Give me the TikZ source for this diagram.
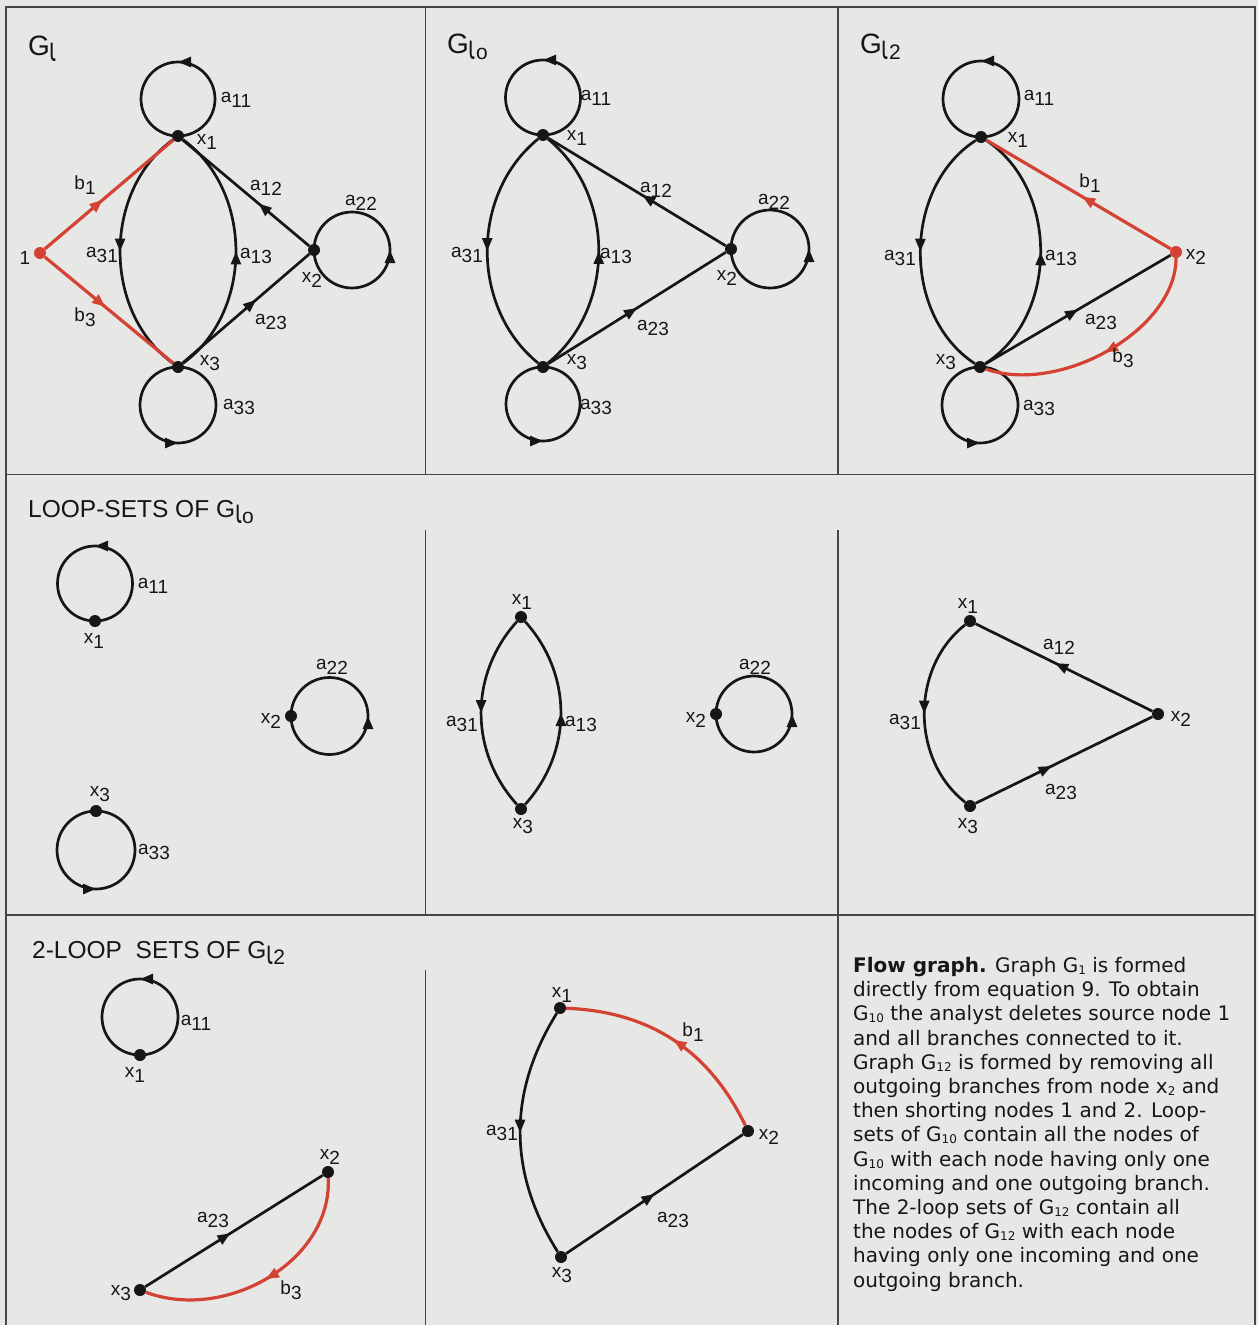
\documentclass[tikz,border=0pt]{standalone}
\usepackage{graphicx}
\usepackage{fontspec}
\setmainfont{Liberation Sans}
\newfontfamily\capfont{DejaVu Sans}
\usetikzlibrary{arrows.meta,decorations.markings}
\definecolor{bg}{RGB}{231,231,229}
\definecolor{ink}{RGB}{22,22,22}
\definecolor{rd}{RGB}{212,66,52}
\definecolor{rulec}{RGB}{70,70,70}
\newcommand\Lb[2]{#1\raisebox{-5pt}{#2}}
\newcommand\Iot{{\capfont\scalebox{1}[1.6]{ι}}}
\newcommand\Tsub[1]{\raisebox{-6pt}{\fontsize{21}{21}\selectfont #1}}
\newcommand\Csub[1]{\raisebox{-2pt}{\fontsize{12}{12}\selectfont #1}}
\begin{document}
\begin{tikzpicture}[x=1pt,y=1pt,
  dot/.style={circle,fill=ink,inner sep=0pt,minimum size=12pt},
  rdot/.style={circle,fill=rd,inner sep=0pt,minimum size=12pt},
  ed/.style={draw=ink,color=ink,line width=2.7pt},
  redg/.style={draw=rd,color=rd,line width=3.2pt},
  midarr/.style={postaction={decorate},decoration={markings,mark=at position #1 with {\arrow{Triangle[length=13pt,width=10pt]}}}},
  lb/.style={font=\fontsize{19}{19}\selectfont,inner sep=0pt,text=ink},
  ttl/.style={font=\fontsize{28}{28}\selectfont,inner sep=0pt,anchor=base west,text=ink},
  ttlb/.style={font=\fontsize{24.5}{24.5}\selectfont,inner sep=0pt,anchor=base west,text=ink},
  frm/.style={draw=rulec,line width=1.8pt}]
\path[use as bounding box,fill=bg] (0,0) rectangle (1258,-1325);
% frame
\draw[frm] (6,-1325) -- (6,-7) -- (1255,-7) -- (1255,-1325);
\draw[frm] (6,-474.5) -- (1255,-474.5);
\draw[frm] (6,-915) -- (1255,-915);
\draw[frm] (425.5,-7) -- (425.5,-474.5);
\draw[frm] (425.5,-530) -- (425.5,-915);
\draw[frm] (425.5,-970) -- (425.5,-1325);
\draw[frm] (838,-7) -- (838,-474.5);
\draw[frm] (838,-530) -- (838,-915);
\draw[frm] (838,-915) -- (838,-1325);

% ===== Row 1, cell 1: G_l
\node[ttl] (tA) at (28,-55) {G\Tsub{\Iot}};
\node[rdot] (A0) at (40,-253) {};
\node[dot] (A1) at (178,-136) {};
\node[dot] (A2) at (314,-250) {};
\node[dot] (A3) at (178,-367) {};
\draw[ed,midarr=0.5] (A1.center) arc[start angle=-90,end angle=270,radius=37];
\draw[ed,midarr=0.5] (A3.center) arc[start angle=90,end angle=450,radius=38];
\draw[ed,midarr=0.5] (A2.center) arc[start angle=180,end angle=540,radius=38];
\draw[ed,midarr=0.5] (A1) to[bend right=54] (A3);
\draw[ed,midarr=0.5] (A3) to[bend right=54] (A1);
\draw[ed,midarr=0.4] (A2) -- (A1);
\draw[ed,midarr=0.58] (A3) -- (A2);
\draw[redg,midarr=0.45] (A0) -- (A1);
\draw[redg,midarr=0.47] (A0) -- (A3);
\node[lb] (lA0) at (25,-258) {1};
\node[lb] (lAb1) at (85,-185) {\Lb{b}{1}};
\node[lb] (lAb3) at (85,-317) {\Lb{b}{3}};
\node[lb] (lA11) at (236,-100) {\Lb{a}{11}};
\node[lb] (lAx1) at (207,-142) {\Lb{x}{1}};
\node[lb] (lA12) at (266,-188) {\Lb{a}{12}};
\node[lb] (lA22) at (361,-203) {\Lb{a}{22}};
\node[lb] (lA31) at (102,-255) {\Lb{a}{31}};
\node[lb] (lA13) at (256,-256) {\Lb{a}{13}};
\node[lb] (lAx2) at (312,-280) {\Lb{x}{2}};
\node[lb] (lA23) at (271,-322) {\Lb{a}{23}};
\node[lb] (lAx3) at (210,-363) {\Lb{x}{3}};
\node[lb] (lA33) at (239,-407) {\Lb{a}{33}};

% ===== Row 1, cell 2: G_l0
\node[ttl] (tB) at (447,-53) {G\Tsub{\Iot o}};
\node[dot] (B1) at (543,-135) {};
\node[dot] (B2) at (731,-249) {};
\node[dot] (B3) at (543,-367) {};
\draw[ed,midarr=0.5] (B1.center) arc[start angle=-90,end angle=270,radius=37.5];
\draw[ed,midarr=0.5] (B3.center) arc[start angle=90,end angle=450,radius=37];
\draw[ed,midarr=0.5] (B2.center) arc[start angle=180,end angle=540,radius=39];
\draw[ed,midarr=0.5] (B1) to[bend right=51] (B3);
\draw[ed,midarr=0.5] (B3) to[bend right=51] (B1);
\draw[ed,midarr=0.47] (B2) -- (B1);
\draw[ed,midarr=0.5] (B3) -- (B2);
\node[lb] (lB11) at (596,-98) {\Lb{a}{11}};
\node[lb] (lBx1) at (577,-138) {\Lb{x}{1}};
\node[lb] (lB12) at (656,-190) {\Lb{a}{12}};
\node[lb] (lB22) at (774,-202) {\Lb{a}{22}};
\node[lb] (lB31) at (467,-255) {\Lb{a}{31}};
\node[lb] (lB13) at (616,-256) {\Lb{a}{13}};
\node[lb] (lBx2) at (727,-278) {\Lb{x}{2}};
\node[lb] (lB23) at (653,-328) {\Lb{a}{23}};
\node[lb] (lBx3) at (577,-362) {\Lb{x}{3}};
\node[lb] (lB33) at (596,-407) {\Lb{a}{33}};

% ===== Row 1, cell 3: G_l2
\node[ttl] (tC) at (860,-53) {G\Tsub{\Iot 2}};
\node[dot] (C1) at (981,-137) {};
\node[rdot] (C2) at (1176,-252) {};
\node[dot] (C3) at (980,-367) {};
\draw[ed,midarr=0.5] (C1.center) arc[start angle=-90,end angle=270,radius=38];
\draw[ed,midarr=0.5] (C3.center) arc[start angle=90,end angle=450,radius=38];
\draw[ed,midarr=0.5] (C1) to[bend right=57] (C3);
\draw[ed,midarr=0.5] (C3) to[bend right=57] (C1);
\draw[ed,midarr=0.5] (C3) -- (C2);
\draw[redg,midarr=0.48] (C2) -- (C1);
\draw[redg,midarr=0.5] (C2) .. controls (1176,-330) and (1060,-395) .. (C3);
\node[lb] (lC11) at (1039,-98) {\Lb{a}{11}};
\node[lb] (lCx1) at (1018,-140) {\Lb{x}{1}};
\node[lb] (lCb1) at (1090,-183) {\Lb{b}{1}};
\node[lb] (lC31) at (900,-258) {\Lb{a}{31}};
\node[lb] (lC13) at (1061,-258) {\Lb{a}{13}};
\node[lb] (lCx2) at (1196,-257) {\Lb{x}{2}};
\node[lb] (lC23) at (1101,-322) {\Lb{a}{23}};
\node[lb] (lCb3) at (1123,-358) {\Lb{b}{3}};
\node[lb] (lCx3) at (946,-362) {\Lb{x}{3}};
\node[lb] (lC33) at (1039,-408) {\Lb{a}{33}};

% ===== Row 2, cell 1: loop sets of G_l0
\node[ttlb] (tD) at (28,-517) {LOOP-SETS OF G\Tsub{\Iot o}};
\node[dot] (D1) at (95,-621) {};
\node[dot] (D2) at (291,-716) {};
\node[dot] (D3) at (96,-811) {};
\draw[ed,midarr=0.5] (D1.center) arc[start angle=-90,end angle=270,radius=37.5];
\draw[ed,midarr=0.5] (D2.center) arc[start angle=180,end angle=540,radius=38.5];
\draw[ed,midarr=0.5] (D3.center) arc[start angle=90,end angle=450,radius=39];
\node[lb] (lD11) at (153,-586) {\Lb{a}{11}};
\node[lb] (lDx1) at (94,-641) {\Lb{x}{1}};
\node[lb] (lD22) at (332,-667) {\Lb{a}{22}};
\node[lb] (lDx2) at (271,-721) {\Lb{x}{2}};
\node[lb] (lDx3) at (100,-794) {\Lb{x}{3}};
\node[lb] (lD33) at (154,-852) {\Lb{a}{33}};

% ===== Row 2, cell 2
\node[dot] (E1) at (521,-617) {};
\node[dot] (E2) at (716,-714) {};
\node[dot] (E3) at (521,-809) {};
\draw[ed,midarr=0.5] (E1) to[bend right=42] (E3);
\draw[ed,midarr=0.5] (E3) to[bend right=42] (E1);
\draw[ed,midarr=0.5] (E2.center) arc[start angle=180,end angle=540,radius=38];
\node[lb] (lEx1) at (522,-602) {\Lb{x}{1}};
\node[lb] (lEx3) at (523,-826) {\Lb{x}{3}};
\node[lb] (lE31) at (462,-724) {\Lb{a}{31}};
\node[lb] (lE13) at (581,-724) {\Lb{a}{13}};
\node[lb] (lE22) at (755,-667) {\Lb{a}{22}};
\node[lb] (lEx2) at (696,-720) {\Lb{x}{2}};

% ===== Row 2, cell 3
\node[dot] (F1) at (970,-621) {};
\node[dot] (F2) at (1158,-714) {};
\node[dot] (F3) at (970,-806) {};
\draw[ed,midarr=0.5] (F1) to[bend right=52] (F3);
\draw[ed,midarr=0.55] (F2) -- (F1);
\draw[ed,midarr=0.43] (F3) -- (F2);
\node[lb] (lFx1) at (968,-606) {\Lb{x}{1}};
\node[lb] (lF12) at (1059,-647) {\Lb{a}{12}};
\node[lb] (lF31) at (905,-722) {\Lb{a}{31}};
\node[lb] (lFx2) at (1181,-719) {\Lb{x}{2}};
\node[lb] (lF23) at (1061,-792) {\Lb{a}{23}};
\node[lb] (lFx3) at (968,-826) {\Lb{x}{3}};

% ===== Row 3, cell 1: 2-loop sets of G_l2
\node[ttlb] (tG) at (32,-958) {2-LOOP\ \ SETS OF G\Tsub{\Iot 2}};
\node[dot] (G1) at (140,-1055) {};
\node[dot] (G2) at (328,-1172) {};
\node[dot] (G3) at (140,-1290) {};
\draw[ed,midarr=0.5] (G1.center) arc[start angle=-90,end angle=270,radius=38];
\draw[ed,midarr=0.48] (G3) -- (G2);
\draw[redg,midarr=0.5] (G2) .. controls (332,-1262) and (225,-1322) .. (G3);
\node[lb] (lG11) at (196,-1023) {\Lb{a}{11}};
\node[lb] (lGx1) at (135,-1075) {\Lb{x}{1}};
\node[lb] (lGx2) at (330,-1157) {\Lb{x}{2}};
\node[lb] (lG23) at (213,-1220) {\Lb{a}{23}};
\node[lb] (lGb3) at (291,-1290) {\Lb{b}{3}};
\node[lb] (lGx3) at (121,-1293) {\Lb{x}{3}};

% ===== Row 3, cell 2
\node[dot] (H1) at (560,-1008) {};
\node[dot] (H2) at (748,-1131) {};
\node[dot] (H3) at (561,-1257) {};
\draw[redg,midarr=0.5] (H2) to[bend right=31] (H1);
\draw[ed,midarr=0.5] (H1) to[bend right=32] (H3);
\draw[ed,midarr=0.5] (H3) -- (H2);
\node[lb] (lHx1) at (562,-995) {\Lb{x}{1}};
\node[lb] (lHb1) at (693,-1032) {\Lb{b}{1}};
\node[lb] (lH31) at (502,-1133) {\Lb{a}{31}};
\node[lb] (lHx2) at (769,-1137) {\Lb{x}{2}};
\node[lb] (lH23) at (673,-1220) {\Lb{a}{23}};
\node[lb] (lHx3) at (562,-1275) {\Lb{x}{3}};

% ===== Row 3, cell 3: caption
\node[anchor=north west,inner sep=0pt,align=left,text=ink,
      font=\capfont\fontsize{20}{24.2}\selectfont] (cap) at (853,-957) {%
\textbf{Flow graph.} Graph G\Csub{1} is formed\\
directly from equation 9. To obtain\\
G\Csub{10} the analyst deletes source node 1\\
and all branches connected to it.\\
Graph G\Csub{12} is formed by removing all\\
outgoing branches from node x\Csub{2} and\\
then shorting nodes 1 and 2. Loop-\\
sets of G\Csub{10} contain all the nodes of\\
G\Csub{10} with each node having only one\\
incoming and one outgoing branch.\\
The 2-loop sets of G\Csub{12} contain all\\
the nodes of G\Csub{12} with each node\\
having only one incoming and one\\
outgoing branch.};
\end{tikzpicture}
\end{document}
